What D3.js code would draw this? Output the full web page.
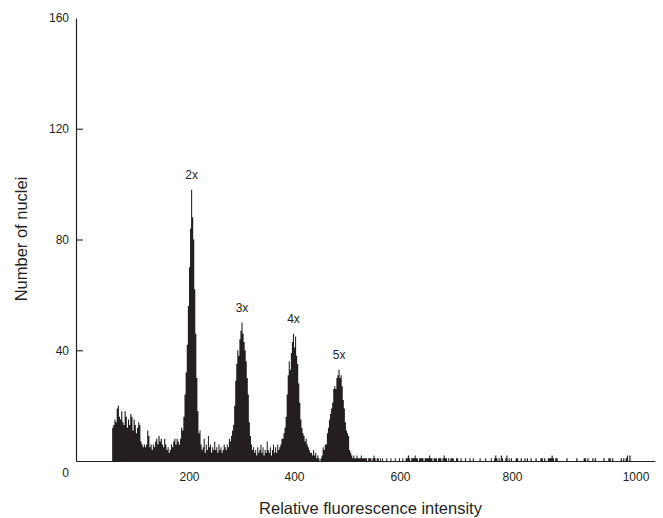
<!DOCTYPE html>
<html>
<head>
<meta charset="utf-8">
<script src="https://cdn.jsdelivr.net/npm/d3@7"></script>
<style>
  body { margin: 0; background: #fff; }
  svg text { font-family: "Liberation Sans", Arial, Helvetica, sans-serif; fill: #231f20; }
</style>
</head>
<body>
<svg id="chart" width="663" height="518"></svg>
<script>
// Flow-cytometry histogram of nuclear DNA content: counts per 2-channel bin.
const binStart = 64;
const binWidth = 2;

// Consecutive runs of bins, starting at channel 64
const debrisCounts = [12, 13, 15, 14, 19, 20, 16, 15, 18, 14, 13, 18, 16, 12, 15, 13, 17, 16, 11, 15, 13, 10, 12, 14, 13, 7, 6, 5];
const lowCounts = [6, 5, 6, 11, 9, 5, 6, 4, 6, 5, 7, 8, 6, 9, 7, 8, 6, 5, 8, 6, 4, 5, 3, 4, 6, 5, 7, 8, 6, 8, 7, 6, 8];
const peak2xCounts = [12, 11, 16, 24, 32, 42, 56, 70, 84, 98, 88, 80, 62, 46, 30, 18, 10];
const valley23Counts = [11, 6, 4, 5, 8, 3, 6, 4, 9, 5, 6, 3, 5, 4, 7, 4, 5, 3, 6, 4, 5, 3, 4, 6, 5, 4, 6, 5, 8, 7];
const peak3xCounts = [9, 11, 13, 20, 29, 35, 40, 38, 44, 47, 50, 46, 43, 40, 36, 30, 24, 14, 9];
const valley34Counts = [6, 4, 5, 3, 4, 2, 5, 3, 4, 6, 3, 5, 2, 4, 3, 7, 4, 3, 5, 2, 4, 6, 3, 5, 3, 6, 4, 5, 6, 8];
const peak4xCounts = [8, 10, 12, 16, 24, 31, 36, 33, 39, 43, 46, 41, 45, 38, 35, 28, 21, 15, 12, 10, 9, 7, 8, 6, 5, 4, 3];
const valley45Counts = [3, 2, 4, 2, 3, 1, 2, 1, 0, 1, 2];
const peak5xCounts = [5, 4, 6, 6, 10, 12, 15, 17, 19, 21, 26, 27, 26, 30, 31, 33, 30, 31, 27, 22, 19, 14, 11, 10, 9, 4, 3];

// Sparse high-intensity tail: [channel, count]
const tailEvents = [
  [508, 2], [510, 1], [512, 2], [514, 1], [516, 1], [518, 2], [520, 1], [522, 1], [524, 1], [526, 2],
  [528, 1], [530, 1], [532, 1], [534, 1], [536, 1], [540, 1], [542, 1], [544, 1], [548, 1], [550, 2],
  [552, 1], [556, 1], [558, 1], [562, 1], [566, 1], [574, 1], [582, 1], [590, 1], [598, 1], [604, 1],
  [610, 1], [612, 1], [614, 2], [616, 1], [620, 1], [622, 1], [624, 1], [626, 2], [628, 1], [630, 1],
  [634, 1], [636, 1], [638, 1], [640, 1], [644, 1], [646, 1], [648, 1], [650, 1], [652, 2], [654, 1],
  [656, 1], [660, 1], [662, 1], [664, 1], [668, 1], [670, 1], [672, 1], [676, 1], [678, 2], [680, 1],
  [682, 1], [686, 1], [690, 1], [692, 1], [694, 1], [700, 1], [702, 1], [708, 1], [716, 1], [724, 1],
  [730, 1], [742, 1], [752, 1], [762, 1], [768, 1], [770, 2], [772, 1], [776, 1], [780, 2], [782, 1],
  [788, 1], [790, 2], [794, 1], [798, 1], [806, 1], [808, 1], [814, 1], [820, 1], [824, 1], [830, 1],
  [838, 1], [846, 1], [848, 1], [852, 1], [858, 1], [860, 1], [862, 1], [864, 2], [866, 1], [870, 1],
  [872, 1], [888, 1], [904, 1], [916, 1], [918, 1], [922, 1], [930, 1], [934, 1], [948, 1], [956, 1],
  [958, 1], [962, 1], [976, 1], [980, 1], [984, 1], [986, 2], [990, 2]
];

const xTickValues = [200, 400, 600, 800, 1000];
const yTickValues = [40, 80, 120, 160];
const peakLabels = ["2x", "3x", "4x", "5x"];
const peakChannels = [204, 300, 398, 484];
const xTitle = "Relative fluorescence intensity";
const yTitle = "Number of nuclei";

// Assemble the full bin table
const counts = [].concat(debrisCounts, lowCounts, peak2xCounts, valley23Counts, peak3xCounts,
  valley34Counts, peak4xCounts, valley45Counts, peak5xCounts);
const lastChannel = 1000;
const bins = [];
for (let i = 0; binStart + i * binWidth < lastChannel; i++) {
  bins.push({ ch: binStart + i * binWidth, n: i < counts.length ? counts[i] : 0 });
}
tailEvents.forEach(([ch, n]) => {
  const b = bins[(ch - binStart) / binWidth];
  if (b) b.n = n;
});
const stepData = bins.concat([{ ch: bins[bins.length - 1].ch + binWidth, n: 0 }]);

const ink = "#231f20";
const svg = d3.select("#chart");

const x = d3.scaleLinear()
  .domain([0, 200, 400, 600, 800, 1000, 1030])
  .range([76, 189, 294, 400, 512, 635.5, 655]);
const y = d3.scaleLinear().domain([0, 160]).range([461, 18]);

// Histogram as a stepped area
const area = d3.area()
  .curve(d3.curveStepAfter)
  .x(d => x(d.ch))
  .y0(y(0))
  .y1(d => y(d.n));

svg.append("path")
  .datum(stepData)
  .attr("d", area)
  .attr("fill", ink)
  .attr("stroke", "none");

// Y axis: ticks point inward, labels to the left
const yAxis = svg.append("g")
  .attr("transform", `translate(${x(0)},0)`)
  .call(d3.axisLeft(y).tickValues(yTickValues).tickFormat(d3.format("d"))
    .tickSizeInner(-7).tickSizeOuter(0).tickPadding(7));
yAxis.select(".domain").attr("stroke", ink).attr("stroke-width", 1.2);
yAxis.selectAll(".tick line").attr("stroke", ink).attr("stroke-width", 1.1)
  .attr("display", d => d === 160 ? "none" : null);
yAxis.selectAll(".tick text").attr("font-size", 12).attr("fill", ink)
  .attr("font-family", "Liberation Sans, Arial, sans-serif");

// X axis: no tick marks
const xAxis = svg.append("g")
  .attr("transform", `translate(0,${y(0)})`)
  .call(d3.axisBottom(x).tickValues(xTickValues).tickFormat(d3.format("d"))
    .tickSize(0).tickPadding(11));
xAxis.select(".domain").attr("stroke", ink).attr("stroke-width", 1.2);
xAxis.selectAll(".tick text").attr("font-size", 12).attr("fill", ink)
  .attr("font-family", "Liberation Sans, Arial, sans-serif");

// Shared origin label
svg.append("text")
  .attr("x", 65.7)
  .attr("y", 476.5)
  .attr("text-anchor", "middle")
  .attr("font-size", 12)
  .text("0");

// Ploidy labels above each peak
peakLabels.forEach((lab, i) => {
  const ch = peakChannels[i];
  const localMax = d3.max(bins.filter(b => Math.abs(b.ch - ch) <= 10), b => b.n);
  svg.append("text")
    .attr("x", x(ch + binWidth / 2))
    .attr("y", y(localMax) - 11)
    .attr("text-anchor", "middle")
    .attr("font-size", 12)
    .text(lab);
});

// Axis titles
svg.append("text")
  .attr("x", 370.5)
  .attr("y", 514)
  .attr("text-anchor", "middle")
  .attr("font-size", 16.5)
  .text(xTitle);

svg.append("text")
  .attr("transform", "translate(21,239) rotate(-90)")
  .attr("dy", "0.35em")
  .attr("text-anchor", "middle")
  .attr("font-size", 16.5)
  .text(yTitle);
</script>
</body>
</html>
